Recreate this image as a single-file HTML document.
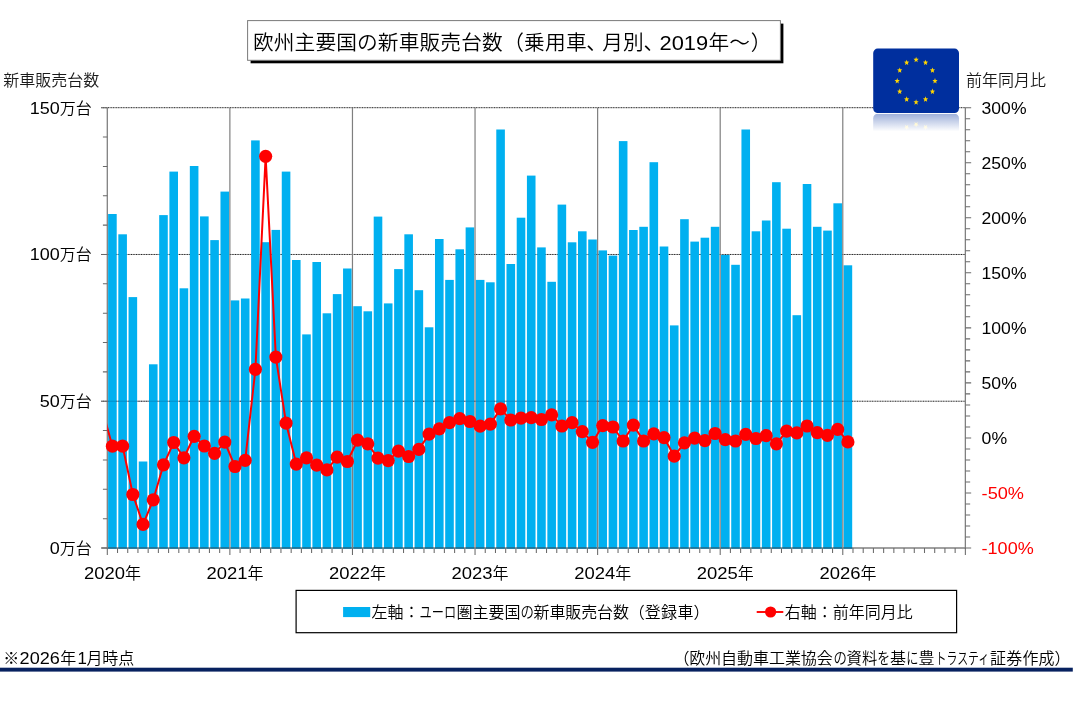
<!DOCTYPE html>
<html lang="ja"><head><meta charset="utf-8"><title>欧州主要国の新車販売台数</title>
<style>html,body{margin:0;padding:0;background:#fff}body{width:1074px;height:707px;overflow:hidden}svg{display:block}text{font-family:"Liberation Sans", "Noto Sans CJK JP", sans-serif;fill:#000;font-weight:350}</style>
</head><body>
<svg width="1074" height="707" viewBox="0 0 1074 707">
<defs>
<clipPath id="plot"><rect x="107.30" y="102.70" width="858.06" height="445.30"/></clipPath>
<linearGradient id="refl" x1="0" y1="0" x2="0" y2="1"><stop offset="0" stop-color="#fff" stop-opacity="0.38"/><stop offset="1" stop-color="#fff" stop-opacity="0"/></linearGradient>
<mask id="reflmask"><rect x="870" y="113.7" width="92" height="17.8" fill="url(#refl)"/></mask>
<polygon id="star" points="0.00,-3.00 0.70,-1.05 2.62,-0.93 1.14,0.40 1.62,2.43 0.00,1.30 -1.62,2.43 -1.14,0.40 -2.62,-0.93 -0.70,-1.05" fill="#FFD500"/>
<g id="flag"><rect x="873.2" y="48.6" width="85.8" height="64.4" rx="4.5" ry="4.5" fill="#002F9E"/>
<use href="#star" x="916.10" y="59.80"/>
<use href="#star" x="925.55" y="62.64"/>
<use href="#star" x="932.47" y="70.40"/>
<use href="#star" x="935.00" y="81.00"/>
<use href="#star" x="932.47" y="91.60"/>
<use href="#star" x="925.55" y="99.36"/>
<use href="#star" x="916.10" y="102.20"/>
<use href="#star" x="906.65" y="99.36"/>
<use href="#star" x="899.73" y="91.60"/>
<use href="#star" x="897.20" y="81.00"/>
<use href="#star" x="899.73" y="70.40"/>
<use href="#star" x="906.65" y="62.64"/>
</g>
</defs>
<rect width="1074" height="707" fill="#fff"/>
<line x1="101.30" y1="401.23" x2="965.36" y2="401.23" stroke="#222" stroke-width="1" stroke-dasharray="1.1 0.55"/>
<line x1="101.30" y1="254.47" x2="965.36" y2="254.47" stroke="#222" stroke-width="1" stroke-dasharray="1.1 0.55"/>
<line x1="101.30" y1="107.70" x2="965.36" y2="107.70" stroke="#222" stroke-width="1" stroke-dasharray="1.1 0.55"/>
<g fill="#00B0F0">
<rect x="108.11" y="214.00" width="8.60" height="334.00"/>
<rect x="118.32" y="234.30" width="8.60" height="313.70"/>
<rect x="128.54" y="297.10" width="8.60" height="250.90"/>
<rect x="138.75" y="461.50" width="8.60" height="86.50"/>
<rect x="148.97" y="364.30" width="8.60" height="183.70"/>
<rect x="159.18" y="215.10" width="8.60" height="332.90"/>
<rect x="169.40" y="171.60" width="8.60" height="376.40"/>
<rect x="179.61" y="288.30" width="8.60" height="259.70"/>
<rect x="189.83" y="166.00" width="8.60" height="382.00"/>
<rect x="200.04" y="216.40" width="8.60" height="331.60"/>
<rect x="210.26" y="240.10" width="8.60" height="307.90"/>
<rect x="220.47" y="191.60" width="8.60" height="356.40"/>
<rect x="230.69" y="300.40" width="8.60" height="247.60"/>
<rect x="240.90" y="298.50" width="8.60" height="249.50"/>
<rect x="251.12" y="140.40" width="8.60" height="407.60"/>
<rect x="261.33" y="242.20" width="8.60" height="305.80"/>
<rect x="271.55" y="229.90" width="8.60" height="318.10"/>
<rect x="281.76" y="171.60" width="8.60" height="376.40"/>
<rect x="291.98" y="260.00" width="8.60" height="288.00"/>
<rect x="302.19" y="334.40" width="8.60" height="213.60"/>
<rect x="312.41" y="262.00" width="8.60" height="286.00"/>
<rect x="322.62" y="313.30" width="8.60" height="234.70"/>
<rect x="332.84" y="294.10" width="8.60" height="253.90"/>
<rect x="343.05" y="268.50" width="8.60" height="279.50"/>
<rect x="353.27" y="306.20" width="8.60" height="241.80"/>
<rect x="363.48" y="311.30" width="8.60" height="236.70"/>
<rect x="373.70" y="216.60" width="8.60" height="331.40"/>
<rect x="383.91" y="303.40" width="8.60" height="244.60"/>
<rect x="394.13" y="269.10" width="8.60" height="278.90"/>
<rect x="404.34" y="234.30" width="8.60" height="313.70"/>
<rect x="414.56" y="290.20" width="8.60" height="257.80"/>
<rect x="424.77" y="327.30" width="8.60" height="220.70"/>
<rect x="434.99" y="239.00" width="8.60" height="309.00"/>
<rect x="445.20" y="279.90" width="8.60" height="268.10"/>
<rect x="455.42" y="249.30" width="8.60" height="298.70"/>
<rect x="465.63" y="227.40" width="8.60" height="320.60"/>
<rect x="475.85" y="279.90" width="8.60" height="268.10"/>
<rect x="486.06" y="282.30" width="8.60" height="265.70"/>
<rect x="496.28" y="129.50" width="8.60" height="418.50"/>
<rect x="506.49" y="264.00" width="8.60" height="284.00"/>
<rect x="516.71" y="217.70" width="8.60" height="330.30"/>
<rect x="526.92" y="175.60" width="8.60" height="372.40"/>
<rect x="537.14" y="247.40" width="8.60" height="300.60"/>
<rect x="547.35" y="281.80" width="8.60" height="266.20"/>
<rect x="557.57" y="204.60" width="8.60" height="343.40"/>
<rect x="567.78" y="242.30" width="8.60" height="305.70"/>
<rect x="578.00" y="231.30" width="8.60" height="316.70"/>
<rect x="588.21" y="239.50" width="8.60" height="308.50"/>
<rect x="598.43" y="250.40" width="8.60" height="297.60"/>
<rect x="608.64" y="255.60" width="8.60" height="292.40"/>
<rect x="618.86" y="141.10" width="8.60" height="406.90"/>
<rect x="629.07" y="230.00" width="8.60" height="318.00"/>
<rect x="639.29" y="226.80" width="8.60" height="321.20"/>
<rect x="649.50" y="162.20" width="8.60" height="385.80"/>
<rect x="659.72" y="246.50" width="8.60" height="301.50"/>
<rect x="669.93" y="325.40" width="8.60" height="222.60"/>
<rect x="680.15" y="219.20" width="8.60" height="328.80"/>
<rect x="690.36" y="241.60" width="8.60" height="306.40"/>
<rect x="700.58" y="237.70" width="8.60" height="310.30"/>
<rect x="710.79" y="226.80" width="8.60" height="321.20"/>
<rect x="721.01" y="254.90" width="8.60" height="293.10"/>
<rect x="731.22" y="264.80" width="8.60" height="283.20"/>
<rect x="741.44" y="129.50" width="8.60" height="418.50"/>
<rect x="751.65" y="231.30" width="8.60" height="316.70"/>
<rect x="761.87" y="220.50" width="8.60" height="327.50"/>
<rect x="772.08" y="182.20" width="8.60" height="365.80"/>
<rect x="782.30" y="228.70" width="8.60" height="319.30"/>
<rect x="792.51" y="315.20" width="8.60" height="232.80"/>
<rect x="802.73" y="184.00" width="8.60" height="364.00"/>
<rect x="812.94" y="226.80" width="8.60" height="321.20"/>
<rect x="823.16" y="230.60" width="8.60" height="317.40"/>
<rect x="833.37" y="203.30" width="8.60" height="344.70"/>
<rect x="843.59" y="265.30" width="8.60" height="282.70"/>
</g>
<g stroke="#7f7f7f" stroke-width="1.2">
<line x1="229.88" y1="107.70" x2="229.88" y2="548.00"/>
<line x1="352.46" y1="107.70" x2="352.46" y2="548.00"/>
<line x1="475.04" y1="107.70" x2="475.04" y2="548.00"/>
<line x1="597.62" y1="107.70" x2="597.62" y2="548.00"/>
<line x1="720.20" y1="107.70" x2="720.20" y2="548.00"/>
<line x1="842.78" y1="107.70" x2="842.78" y2="548.00"/>
</g>
<g stroke="#808080" stroke-width="1.3" fill="none">
<line x1="107.30" y1="107.70" x2="107.30" y2="548.65"/>
<line x1="965.36" y1="107.70" x2="965.36" y2="548.65"/>
<line x1="101.30" y1="548.00" x2="965.36" y2="548.00"/>
</g>
<path d="M101.30 548.00h6.0M102.90 518.65h4.4M102.90 489.29h4.4M102.90 459.94h4.4M102.90 430.59h4.4M101.30 401.23h6.0M102.90 371.88h4.4M102.90 342.53h4.4M102.90 313.17h4.4M102.90 283.82h4.4M101.30 254.47h6.0M102.90 225.11h4.4M102.90 195.76h4.4M102.90 166.41h4.4M102.90 137.05h4.4M101.30 107.70h6.0M965.36 548.00h5.8M965.36 536.99h4.8M965.36 525.99h4.8M965.36 514.98h4.8M965.36 503.97h4.8M965.36 492.96h5.8M965.36 481.95h4.8M965.36 470.95h4.8M965.36 459.94h4.8M965.36 448.93h4.8M965.36 437.93h5.8M965.36 426.92h4.8M965.36 415.91h4.8M965.36 404.90h4.8M965.36 393.89h4.8M965.36 382.89h5.8M965.36 371.88h4.8M965.36 360.87h4.8M965.36 349.87h4.8M965.36 338.86h4.8M965.36 327.85h5.8M965.36 316.84h4.8M965.36 305.83h4.8M965.36 294.83h4.8M965.36 283.82h4.8M965.36 272.81h5.8M965.36 261.80h4.8M965.36 250.80h4.8M965.36 239.79h4.8M965.36 228.78h4.8M965.36 217.77h5.8M965.36 206.77h4.8M965.36 195.76h4.8M965.36 184.75h4.8M965.36 173.75h4.8M965.36 162.74h5.8M965.36 151.73h4.8M965.36 140.72h4.8M965.36 129.71h4.8M965.36 118.71h4.8M965.36 107.70h5.8M107.30 548.00v6.9M117.52 548.00v4.9M127.73 548.00v4.9M137.94 548.00v4.9M148.16 548.00v4.9M158.38 548.00v4.9M168.59 548.00v4.9M178.81 548.00v4.9M189.02 548.00v4.9M199.24 548.00v4.9M209.45 548.00v4.9M219.66 548.00v4.9M229.88 548.00v6.9M240.09 548.00v4.9M250.31 548.00v4.9M260.52 548.00v4.9M270.74 548.00v4.9M280.95 548.00v4.9M291.17 548.00v4.9M301.38 548.00v4.9M311.60 548.00v4.9M321.81 548.00v4.9M332.03 548.00v4.9M342.25 548.00v4.9M352.46 548.00v6.9M362.68 548.00v4.9M372.89 548.00v4.9M383.11 548.00v4.9M393.32 548.00v4.9M403.54 548.00v4.9M413.75 548.00v4.9M423.97 548.00v4.9M434.18 548.00v4.9M444.39 548.00v4.9M454.61 548.00v4.9M464.82 548.00v4.9M475.04 548.00v6.9M485.25 548.00v4.9M495.47 548.00v4.9M505.69 548.00v4.9M515.90 548.00v4.9M526.12 548.00v4.9M536.33 548.00v4.9M546.54 548.00v4.9M556.76 548.00v4.9M566.98 548.00v4.9M577.19 548.00v4.9M587.40 548.00v4.9M597.62 548.00v6.9M607.83 548.00v4.9M618.05 548.00v4.9M628.26 548.00v4.9M638.48 548.00v4.9M648.69 548.00v4.9M658.91 548.00v4.9M669.12 548.00v4.9M679.34 548.00v4.9M689.55 548.00v4.9M699.77 548.00v4.9M709.98 548.00v4.9M720.20 548.00v6.9M730.41 548.00v4.9M740.63 548.00v4.9M750.84 548.00v4.9M761.06 548.00v4.9M771.27 548.00v4.9M781.49 548.00v4.9M791.70 548.00v4.9M801.92 548.00v4.9M812.13 548.00v4.9M822.35 548.00v4.9M832.56 548.00v4.9M842.78 548.00v6.9M852.99 548.00v4.9M863.21 548.00v4.9M873.42 548.00v4.9M883.64 548.00v4.9M893.85 548.00v4.9M904.07 548.00v4.9M914.28 548.00v4.9M924.50 548.00v4.9M934.71 548.00v4.9M944.93 548.00v4.9M955.14 548.00v4.9M965.36 548.00v6.9" stroke="#6a6a6a" stroke-width="1.05" fill="none"/>
<g fill="#00709E">
<rect x="108.11" y="547.30" width="8.60" height="1.4"/>
<rect x="118.32" y="547.30" width="8.60" height="1.4"/>
<rect x="128.54" y="547.30" width="8.60" height="1.4"/>
<rect x="138.75" y="547.30" width="8.60" height="1.4"/>
<rect x="148.97" y="547.30" width="8.60" height="1.4"/>
<rect x="159.18" y="547.30" width="8.60" height="1.4"/>
<rect x="169.40" y="547.30" width="8.60" height="1.4"/>
<rect x="179.61" y="547.30" width="8.60" height="1.4"/>
<rect x="189.83" y="547.30" width="8.60" height="1.4"/>
<rect x="200.04" y="547.30" width="8.60" height="1.4"/>
<rect x="210.26" y="547.30" width="8.60" height="1.4"/>
<rect x="220.47" y="547.30" width="8.60" height="1.4"/>
<rect x="230.69" y="547.30" width="8.60" height="1.4"/>
<rect x="240.90" y="547.30" width="8.60" height="1.4"/>
<rect x="251.12" y="547.30" width="8.60" height="1.4"/>
<rect x="261.33" y="547.30" width="8.60" height="1.4"/>
<rect x="271.55" y="547.30" width="8.60" height="1.4"/>
<rect x="281.76" y="547.30" width="8.60" height="1.4"/>
<rect x="291.98" y="547.30" width="8.60" height="1.4"/>
<rect x="302.19" y="547.30" width="8.60" height="1.4"/>
<rect x="312.41" y="547.30" width="8.60" height="1.4"/>
<rect x="322.62" y="547.30" width="8.60" height="1.4"/>
<rect x="332.84" y="547.30" width="8.60" height="1.4"/>
<rect x="343.05" y="547.30" width="8.60" height="1.4"/>
<rect x="353.27" y="547.30" width="8.60" height="1.4"/>
<rect x="363.48" y="547.30" width="8.60" height="1.4"/>
<rect x="373.70" y="547.30" width="8.60" height="1.4"/>
<rect x="383.91" y="547.30" width="8.60" height="1.4"/>
<rect x="394.13" y="547.30" width="8.60" height="1.4"/>
<rect x="404.34" y="547.30" width="8.60" height="1.4"/>
<rect x="414.56" y="547.30" width="8.60" height="1.4"/>
<rect x="424.77" y="547.30" width="8.60" height="1.4"/>
<rect x="434.99" y="547.30" width="8.60" height="1.4"/>
<rect x="445.20" y="547.30" width="8.60" height="1.4"/>
<rect x="455.42" y="547.30" width="8.60" height="1.4"/>
<rect x="465.63" y="547.30" width="8.60" height="1.4"/>
<rect x="475.85" y="547.30" width="8.60" height="1.4"/>
<rect x="486.06" y="547.30" width="8.60" height="1.4"/>
<rect x="496.28" y="547.30" width="8.60" height="1.4"/>
<rect x="506.49" y="547.30" width="8.60" height="1.4"/>
<rect x="516.71" y="547.30" width="8.60" height="1.4"/>
<rect x="526.92" y="547.30" width="8.60" height="1.4"/>
<rect x="537.14" y="547.30" width="8.60" height="1.4"/>
<rect x="547.35" y="547.30" width="8.60" height="1.4"/>
<rect x="557.57" y="547.30" width="8.60" height="1.4"/>
<rect x="567.78" y="547.30" width="8.60" height="1.4"/>
<rect x="578.00" y="547.30" width="8.60" height="1.4"/>
<rect x="588.21" y="547.30" width="8.60" height="1.4"/>
<rect x="598.43" y="547.30" width="8.60" height="1.4"/>
<rect x="608.64" y="547.30" width="8.60" height="1.4"/>
<rect x="618.86" y="547.30" width="8.60" height="1.4"/>
<rect x="629.07" y="547.30" width="8.60" height="1.4"/>
<rect x="639.29" y="547.30" width="8.60" height="1.4"/>
<rect x="649.50" y="547.30" width="8.60" height="1.4"/>
<rect x="659.72" y="547.30" width="8.60" height="1.4"/>
<rect x="669.93" y="547.30" width="8.60" height="1.4"/>
<rect x="680.15" y="547.30" width="8.60" height="1.4"/>
<rect x="690.36" y="547.30" width="8.60" height="1.4"/>
<rect x="700.58" y="547.30" width="8.60" height="1.4"/>
<rect x="710.79" y="547.30" width="8.60" height="1.4"/>
<rect x="721.01" y="547.30" width="8.60" height="1.4"/>
<rect x="731.22" y="547.30" width="8.60" height="1.4"/>
<rect x="741.44" y="547.30" width="8.60" height="1.4"/>
<rect x="751.65" y="547.30" width="8.60" height="1.4"/>
<rect x="761.87" y="547.30" width="8.60" height="1.4"/>
<rect x="772.08" y="547.30" width="8.60" height="1.4"/>
<rect x="782.30" y="547.30" width="8.60" height="1.4"/>
<rect x="792.51" y="547.30" width="8.60" height="1.4"/>
<rect x="802.73" y="547.30" width="8.60" height="1.4"/>
<rect x="812.94" y="547.30" width="8.60" height="1.4"/>
<rect x="823.16" y="547.30" width="8.60" height="1.4"/>
<rect x="833.37" y="547.30" width="8.60" height="1.4"/>
<rect x="843.59" y="547.30" width="8.60" height="1.4"/>
</g>
<line x1="107.30" y1="401.23" x2="852.99" y2="401.23" stroke="#003" stroke-opacity="0.2" stroke-width="1"/>
<g clip-path="url(#plot)"><polyline fill="none" stroke="#FF0000" stroke-width="2" stroke-linejoin="round" points="102.19,409.60 112.41,446.20 122.62,446.20 132.84,494.50 143.05,524.40 153.27,499.80 163.48,464.80 173.70,442.50 183.91,457.80 194.13,436.30 204.34,446.00 214.56,453.30 224.77,442.10 234.99,466.50 245.20,460.40 255.42,369.30 265.63,156.30 275.85,357.10 286.06,423.20 296.28,464.10 306.49,457.80 316.71,465.20 326.92,469.90 337.14,457.20 347.35,461.50 357.57,440.20 367.78,443.80 378.00,458.10 388.21,460.60 398.43,451.20 408.64,456.50 418.86,449.40 429.07,434.10 439.29,428.80 449.50,422.70 459.72,418.60 469.93,421.50 480.15,426.20 490.36,424.20 500.58,408.80 510.79,420.00 521.01,418.20 531.22,417.60 541.44,419.50 551.65,414.80 561.87,426.00 572.08,422.70 582.30,431.60 592.51,442.30 602.73,425.60 612.94,427.00 623.16,441.00 633.37,425.10 643.59,441.00 653.80,433.90 664.02,437.60 674.23,456.20 684.45,442.80 694.66,438.20 704.88,440.60 715.09,433.50 725.31,439.70 735.52,441.00 745.74,434.40 755.95,438.50 766.17,435.70 776.38,443.80 786.60,431.10 796.81,432.90 807.03,426.00 817.24,432.60 827.46,435.40 837.67,429.40 847.89,441.90"/></g>
<g fill="#FF0000">
<circle cx="112.41" cy="446.20" r="6.6"/>
<circle cx="122.62" cy="446.20" r="6.6"/>
<circle cx="132.84" cy="494.50" r="6.6"/>
<circle cx="143.05" cy="524.40" r="6.6"/>
<circle cx="153.27" cy="499.80" r="6.6"/>
<circle cx="163.48" cy="464.80" r="6.6"/>
<circle cx="173.70" cy="442.50" r="6.6"/>
<circle cx="183.91" cy="457.80" r="6.6"/>
<circle cx="194.13" cy="436.30" r="6.6"/>
<circle cx="204.34" cy="446.00" r="6.6"/>
<circle cx="214.56" cy="453.30" r="6.6"/>
<circle cx="224.77" cy="442.10" r="6.6"/>
<circle cx="234.99" cy="466.50" r="6.6"/>
<circle cx="245.20" cy="460.40" r="6.6"/>
<circle cx="255.42" cy="369.30" r="6.6"/>
<circle cx="265.63" cy="156.30" r="6.6"/>
<circle cx="275.85" cy="357.10" r="6.6"/>
<circle cx="286.06" cy="423.20" r="6.6"/>
<circle cx="296.28" cy="464.10" r="6.6"/>
<circle cx="306.49" cy="457.80" r="6.6"/>
<circle cx="316.71" cy="465.20" r="6.6"/>
<circle cx="326.92" cy="469.90" r="6.6"/>
<circle cx="337.14" cy="457.20" r="6.6"/>
<circle cx="347.35" cy="461.50" r="6.6"/>
<circle cx="357.57" cy="440.20" r="6.6"/>
<circle cx="367.78" cy="443.80" r="6.6"/>
<circle cx="378.00" cy="458.10" r="6.6"/>
<circle cx="388.21" cy="460.60" r="6.6"/>
<circle cx="398.43" cy="451.20" r="6.6"/>
<circle cx="408.64" cy="456.50" r="6.6"/>
<circle cx="418.86" cy="449.40" r="6.6"/>
<circle cx="429.07" cy="434.10" r="6.6"/>
<circle cx="439.29" cy="428.80" r="6.6"/>
<circle cx="449.50" cy="422.70" r="6.6"/>
<circle cx="459.72" cy="418.60" r="6.6"/>
<circle cx="469.93" cy="421.50" r="6.6"/>
<circle cx="480.15" cy="426.20" r="6.6"/>
<circle cx="490.36" cy="424.20" r="6.6"/>
<circle cx="500.58" cy="408.80" r="6.6"/>
<circle cx="510.79" cy="420.00" r="6.6"/>
<circle cx="521.01" cy="418.20" r="6.6"/>
<circle cx="531.22" cy="417.60" r="6.6"/>
<circle cx="541.44" cy="419.50" r="6.6"/>
<circle cx="551.65" cy="414.80" r="6.6"/>
<circle cx="561.87" cy="426.00" r="6.6"/>
<circle cx="572.08" cy="422.70" r="6.6"/>
<circle cx="582.30" cy="431.60" r="6.6"/>
<circle cx="592.51" cy="442.30" r="6.6"/>
<circle cx="602.73" cy="425.60" r="6.6"/>
<circle cx="612.94" cy="427.00" r="6.6"/>
<circle cx="623.16" cy="441.00" r="6.6"/>
<circle cx="633.37" cy="425.10" r="6.6"/>
<circle cx="643.59" cy="441.00" r="6.6"/>
<circle cx="653.80" cy="433.90" r="6.6"/>
<circle cx="664.02" cy="437.60" r="6.6"/>
<circle cx="674.23" cy="456.20" r="6.6"/>
<circle cx="684.45" cy="442.80" r="6.6"/>
<circle cx="694.66" cy="438.20" r="6.6"/>
<circle cx="704.88" cy="440.60" r="6.6"/>
<circle cx="715.09" cy="433.50" r="6.6"/>
<circle cx="725.31" cy="439.70" r="6.6"/>
<circle cx="735.52" cy="441.00" r="6.6"/>
<circle cx="745.74" cy="434.40" r="6.6"/>
<circle cx="755.95" cy="438.50" r="6.6"/>
<circle cx="766.17" cy="435.70" r="6.6"/>
<circle cx="776.38" cy="443.80" r="6.6"/>
<circle cx="786.60" cy="431.10" r="6.6"/>
<circle cx="796.81" cy="432.90" r="6.6"/>
<circle cx="807.03" cy="426.00" r="6.6"/>
<circle cx="817.24" cy="432.60" r="6.6"/>
<circle cx="827.46" cy="435.40" r="6.6"/>
<circle cx="837.67" cy="429.40" r="6.6"/>
<circle cx="847.89" cy="441.90" r="6.6"/>
</g>
<use href="#flag"/>
<g mask="url(#reflmask)"><use href="#flag" transform="translate(0,226.7) scale(1,-1)"/></g>
<rect x="250.6" y="23.6" width="532.8" height="39.7" fill="#000"/>
<rect x="247.6" y="20.6" width="532.8" height="39.7" fill="#fff" stroke="#7a7a7a" stroke-width="1"/>
<text font-size="20.7" y="49.6"><tspan x="252.9" textLength="249.8">欧州主要国の新車販売台数</tspan><tspan x="503.2" textLength="83.4">（乗用車</tspan><tspan x="586.2">、</tspan><tspan x="602.2">月別</tspan><tspan x="643.6">、</tspan><tspan x="659.5" textLength="48.6" lengthAdjust="spacingAndGlyphs">2019</tspan><tspan x="708.6">年～</tspan><tspan x="750.8">）</tspan></text>
<text font-size="16" x="3.3" y="85.8" style="fill:#1a1a1a">新車販売台数</text>
<text font-size="16" x="965.9" y="86.4" style="fill:#1a1a1a">前年同月比</text>
<text font-size="16" x="49.8" y="553.9"><tspan textLength="10.0" lengthAdjust="spacingAndGlyphs">0</tspan>万台</text>
<text font-size="16" x="39.8" y="407.1"><tspan textLength="20.0" lengthAdjust="spacingAndGlyphs">50</tspan>万台</text>
<text font-size="16" x="29.8" y="260.4"><tspan textLength="30.0" lengthAdjust="spacingAndGlyphs">100</tspan>万台</text>
<text font-size="16" x="29.8" y="113.6"><tspan textLength="30.0" lengthAdjust="spacingAndGlyphs">150</tspan>万台</text>
<text font-size="16" x="981.6" y="553.9" style="fill:#FF0000" textLength="52.1" lengthAdjust="spacingAndGlyphs">-100%</text>
<text font-size="16" x="981.6" y="498.9" style="fill:#FF0000" textLength="42.4" lengthAdjust="spacingAndGlyphs">-50%</text>
<text font-size="16" x="981.6" y="443.8" textLength="25.5" lengthAdjust="spacingAndGlyphs">0%</text>
<text font-size="16" x="981.6" y="388.8" textLength="35.2" lengthAdjust="spacingAndGlyphs">50%</text>
<text font-size="16" x="981.6" y="333.8" textLength="44.9" lengthAdjust="spacingAndGlyphs">100%</text>
<text font-size="16" x="981.6" y="278.7" textLength="44.9" lengthAdjust="spacingAndGlyphs">150%</text>
<text font-size="16" x="981.6" y="223.7" textLength="44.9" lengthAdjust="spacingAndGlyphs">200%</text>
<text font-size="16" x="981.6" y="168.6" textLength="44.9" lengthAdjust="spacingAndGlyphs">250%</text>
<text font-size="16" x="981.6" y="113.6" textLength="44.9" lengthAdjust="spacingAndGlyphs">300%</text>
<text font-size="16" x="83.9" y="578.9"><tspan textLength="41.0" lengthAdjust="spacingAndGlyphs">2020</tspan>年</text>
<text font-size="16" x="206.5" y="578.9"><tspan textLength="41.0" lengthAdjust="spacingAndGlyphs">2021</tspan>年</text>
<text font-size="16" x="329.1" y="578.9"><tspan textLength="41.0" lengthAdjust="spacingAndGlyphs">2022</tspan>年</text>
<text font-size="16" x="451.6" y="578.9"><tspan textLength="41.0" lengthAdjust="spacingAndGlyphs">2023</tspan>年</text>
<text font-size="16" x="574.2" y="578.9"><tspan textLength="41.0" lengthAdjust="spacingAndGlyphs">2024</tspan>年</text>
<text font-size="16" x="696.8" y="578.9"><tspan textLength="41.0" lengthAdjust="spacingAndGlyphs">2025</tspan>年</text>
<text font-size="16" x="819.4" y="578.9"><tspan textLength="41.0" lengthAdjust="spacingAndGlyphs">2026</tspan>年</text>
<rect x="296.1" y="590.4" width="660.5" height="42.3" fill="#fff" stroke="#000" stroke-width="1.2"/>
<rect x="343.1" y="607.0" width="27.1" height="10.1" fill="#00B0F0"/>
<text font-size="16" y="617.8"><tspan x="371.4">左軸：</tspan><tspan x="419.6" textLength="36.6" lengthAdjust="spacingAndGlyphs">ユーロ</tspan><tspan x="456.4">圏主要国</tspan><tspan x="520.6" textLength="13.4" lengthAdjust="spacingAndGlyphs">の</tspan><tspan x="533.6" textLength="95.4" lengthAdjust="spacing">新車販売台数</tspan><tspan x="628.8">（</tspan><tspan x="644.8" textLength="48.6" lengthAdjust="spacing">登録車</tspan><tspan x="693.6">）</tspan></text>
<line x1="756.7" y1="612.0" x2="783.3" y2="612.0" stroke="#FF0000" stroke-width="1.9"/><circle cx="770.6" cy="612.0" r="5.6" fill="#FF0000"/>
<text font-size="16" x="784.8" y="617.8">右軸：前年同月比</text>
<text font-size="16" y="663.6"><tspan x="3.3">※</tspan><tspan x="19.6" textLength="40.2" lengthAdjust="spacingAndGlyphs">2026</tspan><tspan x="60.2">年</tspan><tspan x="77.4" textLength="9.4" lengthAdjust="spacingAndGlyphs">1</tspan><tspan x="86.4">月</tspan><tspan x="102.2">時点</tspan></text>
<text font-size="16" y="663.6"><tspan x="673.4">（</tspan><tspan x="689.2" textLength="143.6" lengthAdjust="spacing">欧州自動車工業協会</tspan><tspan x="833.4" textLength="13.4" lengthAdjust="spacingAndGlyphs">の</tspan><tspan x="846.6" textLength="30.6" lengthAdjust="spacingAndGlyphs">資料</tspan><tspan x="877.2" textLength="12.8" lengthAdjust="spacingAndGlyphs">を</tspan><tspan x="889.9">基</tspan><tspan x="906.2" textLength="12.2" lengthAdjust="spacingAndGlyphs">に</tspan><tspan x="918.6">豊</tspan><tspan x="935.6" textLength="53.6" lengthAdjust="spacingAndGlyphs">トラスティ</tspan><tspan x="990.0" textLength="64.6" lengthAdjust="spacing">証券作成</tspan><tspan x="1054.6">）</tspan></text>
<rect x="0" y="667.7" width="1072.8" height="3.9" fill="#07215F"/>
</svg>
</body></html>
